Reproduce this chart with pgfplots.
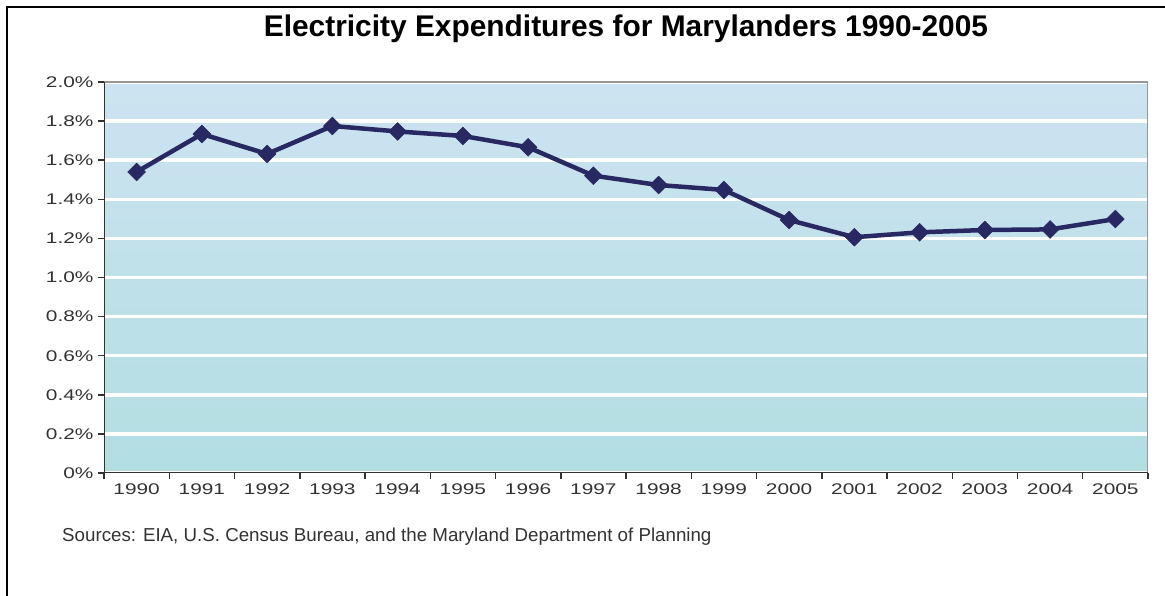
\documentclass[border=0pt]{standalone}
\usepackage{fontspec}
\setmainfont{Liberation Sans}
\newfontfamily\tickfont[FakeStretch=1.35]{Liberation Sans}
\usepackage{pgfplots}
\pgfplotsset{compat=1.18}
\definecolor{bgtop}{RGB}{205,227,241}
\definecolor{bgbot}{RGB}{178,222,226}
\definecolor{navy}{RGB}{40,40,98}
\definecolor{labelgray}{RGB}{50,50,50}
\definecolor{rimgray}{RGB}{150,150,150}
\begin{document}
\begin{tikzpicture}
\useasboundingbox (0,0) rectangle (1165bp,596bp);
\draw[line width=2bp,black] (7bp,0) -- (7bp,589bp) -- (1165bp,589bp);
\node[anchor=base,font=\bfseries\fontsize{30}{36}\selectfont] at (626bp,559bp) {Electricity Expenditures for Marylanders 1990-2005};
\node[anchor=base west,inner sep=0pt,text=labelgray,font=\fontsize{18.8}{22}\selectfont] at (62bp,54bp) {Sources: EIA, U.S. Census Bureau, and the Maryland Department of Planning};
\begin{axis}[
  at={(104bp,123bp)}, anchor=south west,
  scale only axis, width=1044bp, height=391bp,
  xmin=-0.5, xmax=15.5, ymin=0, ymax=2.0,
  axis line style={draw=none},
  axis background/.style={shade, top color=bgtop, bottom color=bgbot},
  ytick={0,0.2,...,2.01},
  yticklabels={0\%,0.2\%,0.4\%,0.6\%,0.8\%,1.0\%,1.2\%,1.4\%,1.6\%,1.8\%,2.0\%},
  xtick={0,...,15},
  xticklabels={1990,1991,1992,1993,1994,1995,1996,1997,1998,1999,2000,2001,2002,2003,2004,2005},
  minor xtick={-0.5,0.5,...,15.6},
  major x tick style={draw=none},
  minor x tick style={draw=labelgray, line width=1.5bp},
  major y tick style={draw=labelgray, line width=1.5bp},
  tick align=outside,
  major tick length=6bp, minor tick length=6bp,
  xtick pos=bottom, ytick pos=left,
  ymajorgrids, major grid style={white, line width=3.5bp},
  xticklabel style={font=\tickfont\fontsize{15.5}{18}\selectfont, text=labelgray, yshift=-1bp},
  yticklabel style={font=\tickfont\fontsize{15.5}{18}\selectfont, text=labelgray, xshift=-1bp},
]
\addplot[navy, line width=4.5bp, mark=square*, mark size=6.3bp, mark options={rotate=45, fill=navy, draw=navy, line width=0.5bp}] coordinates {
(0,1.54) (1,1.734) (2,1.632) (3,1.775) (4,1.747) (5,1.724) (6,1.666) (7,1.521)
(8,1.473) (9,1.448) (10,1.294) (11,1.206) (12,1.231) (13,1.243) (14,1.246) (15,1.299)
};
\draw[rimgray, line width=2bp] (rel axis cs:0,1) -- (rel axis cs:1,1) -- (rel axis cs:1,0);
\draw[labelgray, line width=2bp] (rel axis cs:0,1) -- (rel axis cs:0,0) -- (rel axis cs:1,0);
\end{axis}
\end{tikzpicture}
\end{document}
